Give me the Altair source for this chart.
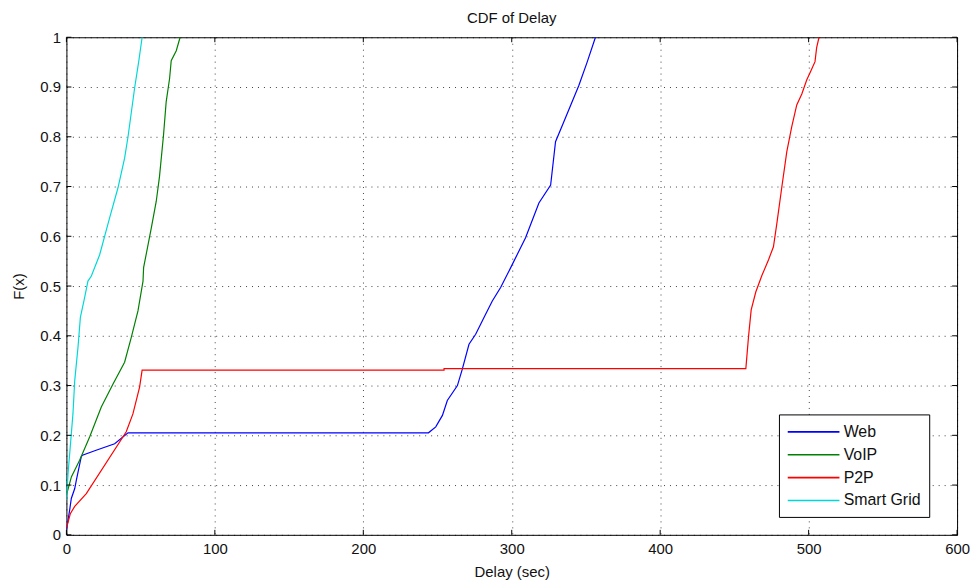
import altair as alt
import pandas as pd

# ---- data ----
series_names = ["Web", "VoIP", "P2P", "Smart Grid"]
series_colors = ["#0000FF", "#008000", "#FF0000", "#00D8D8"]

web_x = [0, 2.2, 3.3, 5.6, 6.7, 10, 10.8, 20, 32.5, 41.5, 243.9, 248.8, 253.3, 256.6,
         263.4, 266.7, 271.2, 275.7, 281.3, 286.9, 292.5, 299.3, 309.3, 318.3, 326.2,
         329.5, 335.1, 345.2, 350.8, 356.4]
web_y = [0.01, 0.05, 0.073, 0.093, 0.11, 0.157, 0.16, 0.170, 0.183, 0.205, 0.205, 0.217,
         0.24, 0.27, 0.30, 0.333, 0.383, 0.403, 0.437, 0.47, 0.497, 0.537, 0.597, 0.667,
         0.703, 0.79, 0.83, 0.903, 0.95, 1.0]

voip_x = [0, 3.4, 8.9, 15.7, 23.5, 31.4, 39.2, 43.7, 48.2, 51.6, 52, 57.2, 60.5, 62.7,
          65.4, 67.2, 69.5, 70.6, 74, 76.6]
voip_y = [0.08, 0.117, 0.15, 0.197, 0.257, 0.303, 0.347, 0.397, 0.45, 0.51, 0.537,
          0.617, 0.67, 0.72, 0.803, 0.87, 0.917, 0.953, 0.973, 1.0]

p2p_x = [0, 2.7, 5.6, 13.4, 40.3, 44.8, 49.3, 51, 254.4, 254.4, 457.7, 459.5, 461.3,
         464.4, 468.5, 473, 476.3, 478.6, 481.9, 485.3, 488.6, 492, 495.4, 498.7, 502.1,
         504.3, 505.4, 507]
p2p_y = [0.013, 0.043, 0.057, 0.083, 0.207, 0.243, 0.297, 0.331, 0.331, 0.334, 0.334,
         0.398, 0.452, 0.488, 0.521, 0.553, 0.579, 0.626, 0.698, 0.77, 0.82, 0.864, 0.886,
         0.914, 0.936, 0.951, 0.979, 1.0]

grid_x = [0, 1.1, 4.4, 5.6, 7.8, 9.4, 12.3, 14.5, 16.8, 22.4, 29.1, 34.7, 39.2, 41.5,
          45.9, 48.8, 51]
grid_y = [0.07, 0.123, 0.243, 0.31, 0.377, 0.437, 0.477, 0.51, 0.52, 0.563, 0.637,
          0.697, 0.757, 0.8, 0.897, 0.953, 1.0]

x_ticks = [0, 100, 200, 300, 400, 500, 600]
y_ticks = [0, 0.1, 0.2, 0.3, 0.4, 0.5, 0.6, 0.7, 0.8, 0.9, 1.0]

title_text = "CDF of Delay"
x_title = "Delay (sec)"
y_title = "F(x)"

# ---- build table ----
rows = []
for name, xs, ys in [("Web", web_x, web_y), ("VoIP", voip_x, voip_y),
                     ("P2P", p2p_x, p2p_y), ("Smart Grid", grid_x, grid_y)]:
    for i, (xv, yv) in enumerate(zip(xs, ys)):
        rows.append({"series": name, "x": xv, "y": yv, "order": i})
df = pd.DataFrame(rows)

W, H = 895, 500
FONT = "Liberation Sans"
TXT = "#111111"

xscale = alt.Scale(domain=[0, 600], nice=False, zero=False)
yscale = alt.Scale(domain=[0, 1], nice=False, zero=False)

lines = alt.Chart(df).mark_line(strokeWidth=1.2, clip=True).encode(
    x=alt.X("x:Q", scale=xscale, title=x_title,
            axis=alt.Axis(values=x_ticks, grid=True, ticks=False, domain=False,
                          labelFontSize=15, labelPadding=7, labelFlush=False,
                          labelOverlap=False, titleFontSize=15, titleFontWeight="normal",
                          titlePadding=8, gridDash=[1, 5], gridColor="#000000",
                          gridOpacity=0.75, labelColor=TXT, titleColor=TXT)),
    y=alt.Y("y:Q", scale=yscale, title=y_title,
            axis=alt.Axis(values=y_ticks, grid=True, ticks=False, domain=False,
                          format="~g", labelFontSize=15, labelPadding=6, labelFlush=False,
                          labelOverlap=False, titleFontSize=15, titleFontWeight="normal",
                          titlePadding=13, gridDash=[1, 5], gridColor="#000000",
                          gridOpacity=0.75, labelColor=TXT, titleColor=TXT)),
    color=alt.Color("series:N",
                    scale=alt.Scale(domain=series_names, range=series_colors),
                    sort=series_names,
                    legend=alt.Legend(title=None, orient="none", legendX=716, legendY=379,
                                      strokeColor="#000000", fillColor="#ffffff",
                                      padding=8, symbolType="M-1,0H5", symbolSize=300,
                                      symbolStrokeWidth=1.6, labelFontSize=16,
                                      labelColor=TXT, rowPadding=5, labelOffset=38,
                                      labelFont=FONT)),
    order="order:Q",
)

# inward MATLAB-style tick marks on all four sides
xt = pd.DataFrame({"t": x_ticks})
yt = pd.DataFrame({"t": y_ticks})
tick_style = dict(color="#000000", strokeWidth=1)
bx = alt.Chart(xt).mark_rule(**tick_style).encode(
    x=alt.X("t:Q", scale=xscale), y=alt.value(H), y2=alt.value(H - 5))
tx = alt.Chart(xt).mark_rule(**tick_style).encode(
    x=alt.X("t:Q", scale=xscale), y=alt.value(0), y2=alt.value(5))
ly = alt.Chart(yt).mark_rule(**tick_style).encode(
    y=alt.Y("t:Q", scale=yscale), x=alt.value(0), x2=alt.value(5))
ry = alt.Chart(yt).mark_rule(**tick_style).encode(
    y=alt.Y("t:Q", scale=yscale), x=alt.value(W - 5), x2=alt.value(W))

chart = alt.layer(lines, bx, tx, ly, ry).properties(
    width=W, height=H,
    title=alt.TitleParams(title_text, fontSize=15, fontWeight="normal", font=FONT,
                          color=TXT, offset=4, anchor="middle"),
    autosize=alt.AutoSizeParams(type="none"),
    padding={"left": 58.7, "top": 28, "right": 15, "bottom": 45},
).configure(font=FONT, background="#ffffff").configure_view(
    stroke="#000000", strokeWidth=1
).configure_axis(labelFont=FONT, titleFont=FONT)

chart.save("out.html", embed_options={"renderer": "svg", "actions": False})
